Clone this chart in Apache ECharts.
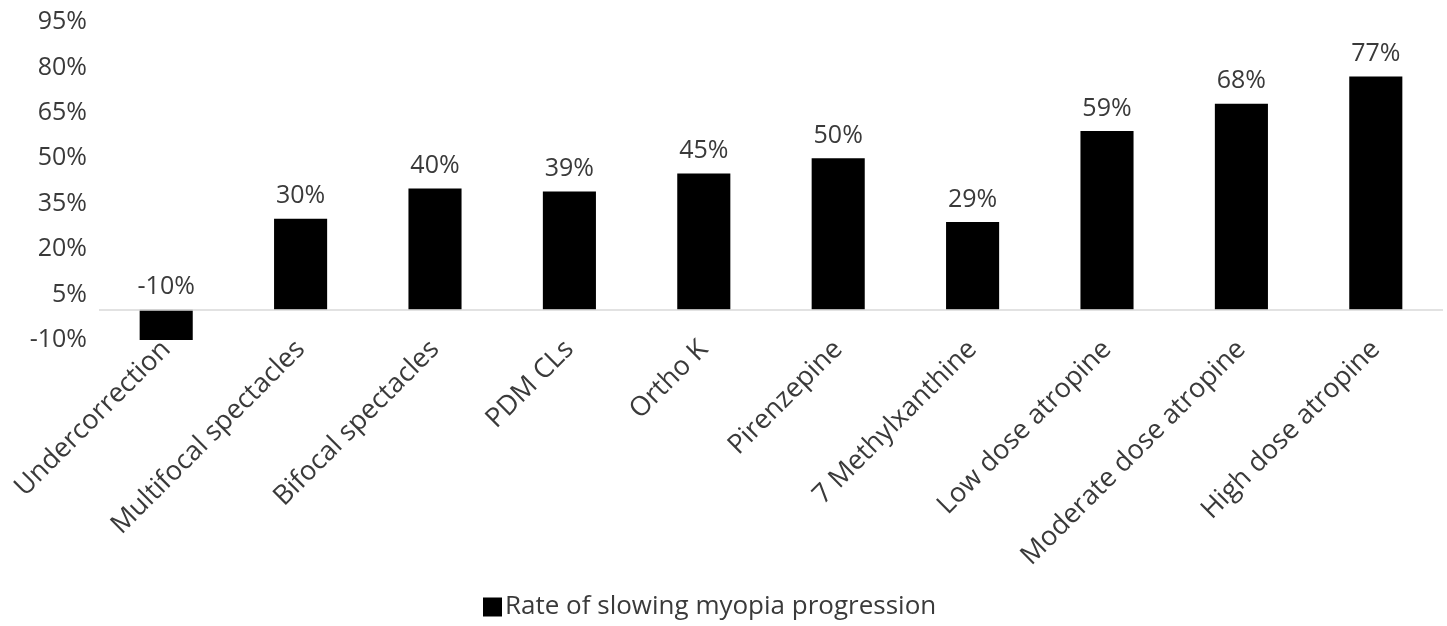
<!DOCTYPE html>
<html>
<head>
<meta charset="utf-8">
<script src="https://cdn.jsdelivr.net/npm/echarts@6/dist/echarts.min.js"></script>
<style>
  html, body { margin: 0; padding: 0; background: #fff; }
  #chart { width: 1447px; height: 626px; }
</style>
</head>
<body>
<div id="chart"></div>
<script>
// Treatments compared for slowing myopia progression
const categories = [
  'Undercorrection', 'Multifocal spectacles', 'Bifocal spectacles', 'PDM CLs',
  'Ortho K', 'Pirenzepine', '7 Methylxanthine', 'Low dose atropine',
  'Moderate dose atropine', 'High dose atropine'
];
const rates = [-10, 30, 40, 39, 45, 50, 29, 59, 68, 77];
const yTicks = [-10, 5, 20, 35, 50, 65, 80, 95];
const seriesName = 'Rate of slowing myopia progression';

const FONT = '"Open Sans", "Noto Sans", sans-serif';
const TEXT = '#3a3a3a';

const chart = echarts.init(document.getElementById('chart'), null, { renderer: 'canvas' });
chart.setOption({
  animation: false,
  backgroundColor: '#ffffff',
  textStyle: { fontFamily: FONT, color: TEXT },
  grid: { left: 99, right: 4, top: 22, height: 318 },
  legend: {
    data: [seriesName],
    left: 478, top: 589,
    icon: 'rect', itemWidth: 19, itemHeight: 19, itemGap: 8,
    textStyle: { fontFamily: FONT, fontSize: 26, color: TEXT, padding: [0, 0, 0, -2] }
  },
  xAxis: {
    type: 'category',
    data: categories,
    axisLine: { show: false, onZero: false },
    axisTick: { show: false },
    axisLabel: {
      interval: 0, rotate: 45, margin: 5,
      fontFamily: FONT, fontSize: 27, color: TEXT
    }
  },
  yAxis: {
    type: 'value',
    min: -10, max: 95,
    axisLine: { show: false },
    axisTick: { show: false },
    splitLine: { show: false },
    axisLabel: {
      customValues: yTicks,
      formatter: '{value}%',
      margin: 12,
      fontFamily: FONT, fontSize: 25, color: TEXT
    }
  },
  series: [{
    name: seriesName,
    type: 'bar',
    data: rates,
    barWidth: '39.5%',
    itemStyle: { color: '#000000' },
    label: {
      show: true, position: 'top', distance: 10,
      formatter: '{c}%',
      fontFamily: FONT, fontSize: 25, color: TEXT
    },
    markLine: {
      silent: true,
      symbol: 'none',
      label: { show: false },
      lineStyle: { color: '#d9d9d9', type: 'solid', width: 1.5 },
      data: [{ yAxis: 0 }]
    }
  }]
});
</script>
</body>
</html>
